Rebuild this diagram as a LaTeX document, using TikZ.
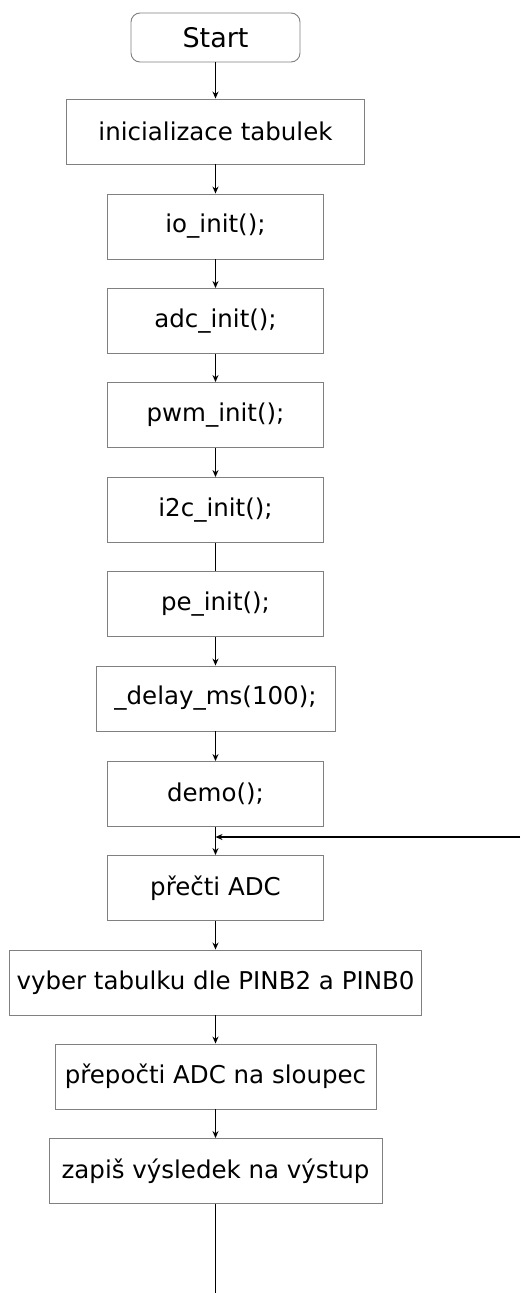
\documentclass[tikz,border=0pt]{standalone}
\usepackage{fontspec}
\setmainfont{DejaVu Sans}
\usetikzlibrary{arrows.meta}

\begin{document}
\begin{tikzpicture}[x=1pt, y=-1pt, line width=1.2pt,
  >={Stealth[length=7pt,width=6pt]},
  box/.style={rectangle, draw=gray, line width=0.9pt, minimum width=216pt,
    minimum height=65pt, inner xsep=6pt, font=\fontsize{24.5}{29}\selectfont},
  startbox/.style={box, rounded corners=9pt, minimum width=169pt,
    minimum height=49pt, font=\fontsize{27}{32}\selectfont}]
  \useasboundingbox (0,0) rectangle (520,1293);

  \node[startbox] (start) at (215.5,37.5) {Start};
  \node[box, minimum width=298pt] (tab) at (215.5,131.5) {inicializace tabulek};
  \node[box] (io) at (215.5,226.5) {io\_init();};
  \node[box] (adc) at (215.5,321) {adc\_init();};
  \node[box] (pwm) at (215.5,415) {pwm\_init();};
  \node[box] (i2c) at (215.5,510) {i2c\_init();};
  \node[box] (pe) at (215.5,604) {pe\_init();};
  \node[box, minimum width=239pt] (delay) at (215.5,698.5) {\_delay\_ms(100);};
  \node[box] (demo) at (215.5,794) {demo();};
  \node[box] (read) at (215.5,888) {přečti ADC};
  \node[box, minimum width=412pt] (pick) at (215.5,982.5) {vyber tabulku dle PINB2 a PINB0};
  \node[box, minimum width=321pt] (conv) at (215.5,1076.5) {přepočti ADC na sloupec};
  \node[box, minimum width=333pt] (out) at (215.5,1171) {zapiš výsledek na výstup};

  \coordinate (loopin) at (520,837);
  \coordinate (join) at (215.5,837);
  \coordinate (bottom) at (215.5,1293);

  \foreach \from/\to in {start/tab, tab/io, io/adc, adc/pwm, pwm/i2c, pe/delay,
      delay/demo, demo/read, read/pick, pick/conv, conv/out}
    \draw[->] (\from) -- (\to);
  \draw (i2c) -- (pe);
  \draw (out) -- (bottom);
  \draw[->] (loopin) -- (join);
\end{tikzpicture}
\end{document}
